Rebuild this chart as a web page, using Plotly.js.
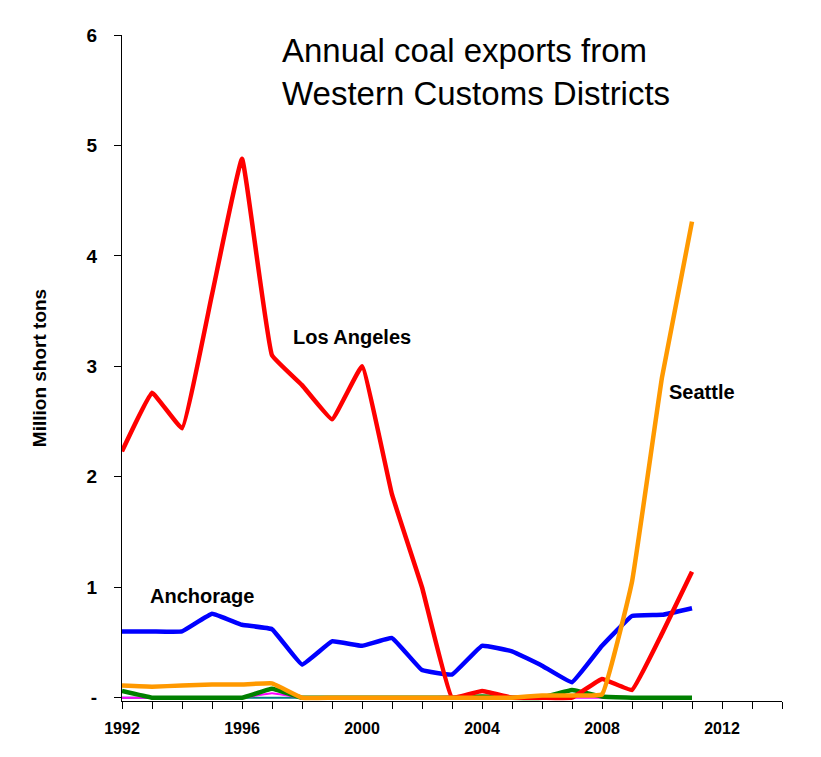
<!DOCTYPE html>
<html>
<head>
<meta charset="utf-8">
<script src="https://cdn.plot.ly/plotly-3.0.1.min.js"></script>
<style>
  html, body { margin: 0; padding: 0; background: #fff; }
  #chart { width: 821px; height: 757px; }
</style>
</head>
<body>
<div id="chart"></div>
<script>
// years 1992-2011, million short tons
var years = [1992, 1993, 1994, 1995, 1996, 1997, 1998, 1999, 2000, 2001,
             2002, 2003, 2004, 2005, 2006, 2007, 2008, 2009, 2010, 2011];

var losAngeles = [2.23, 2.76, 2.44, 3.65, 4.88, 3.10, 2.83, 2.52, 3.00, 1.84,
                  1.00, 0.00, 0.06, 0.00, 0.00, 0.00, 0.17, 0.07, 0.58, 1.14];
var anchorage = [0.60, 0.60, 0.60, 0.76, 0.66, 0.62, 0.30, 0.51, 0.47, 0.54,
                 0.25, 0.21, 0.47, 0.42, 0.29, 0.14, 0.47, 0.74, 0.75, 0.81];
var seattle = [0.11, 0.10, 0.11, 0.12, 0.12, 0.13, 0.00, 0.00, 0.00, 0.00,
               0.00, 0.00, 0.00, 0.00, 0.02, 0.02, 0.03, 1.05, 2.90, 4.31];
var green = [0.06, 0.00, 0.00, 0.00, 0.00, 0.08, 0.00, 0.00, 0.00, 0.00,
             0.00, 0.00, 0.01, 0.00, 0.00, 0.07, 0.01, 0.00, 0.00, 0.00];
var magenta = [0.00, 0.00, 0.00, 0.00, 0.00, 0.04, 0.00, 0.00, 0.00, 0.00,
               0.00, 0.01, 0.00, 0.00, 0.00, 0.00, 0.00, 0.00, 0.00, 0.00];
var teal = [0.00, 0.00, 0.00, 0.00, 0.00, 0.00, 0.00];
var tealYears = [1992, 1993, 1994, 1995, 1996, 1997, 1998];

var yTickVals = [0, 1, 2, 3, 4, 5, 6];
var yTickText = ['-', '1', '2', '3', '4', '5', '6'];
var xTickVals = [1992, 1996, 2000, 2004, 2008, 2012];

function line(x, y, color, width) {
    return {
        x: x, y: y, type: 'scatter', mode: 'lines',
        line: {color: color, width: width, shape: 'spline', smoothing: 0.25},
        hoverinfo: 'x+y', showlegend: false
    };
}

var data = [
    line(tealYears, teal, '#008080', 2),
    line(years, magenta, '#FF00FF', 2),
    line(years, green, '#008000', 4.5),
    line(years, anchorage, '#0000FF', 4.5),
    line(years, losAngeles, '#FF0000', 4.5),
    line(years, seattle, '#FF9900', 4.5)
];

var labelFont = {family: 'Liberation Sans, Arial, sans-serif', size: 20, color: '#000', weight: 'bold'};

var layout = {
    width: 821,
    height: 757,
    margin: {l: 122, r: 39, t: 35, b: 56},
    paper_bgcolor: '#fff',
    plot_bgcolor: '#fff',
    font: {family: 'Liberation Sans, Arial, sans-serif', color: '#000'},
    xaxis: {
        range: [1992, 2014],
        tickvals: xTickVals,
        ticktext: xTickVals.map(String),
        ticks: 'outside',
        ticklen: 7,
        tickwidth: 1,
        tickcolor: '#000',
        minor: {dtick: 1, tick0: 1992, ticks: 'outside', ticklen: 7, tickwidth: 1, tickcolor: '#000'},
        showline: true,
        linecolor: '#000',
        linewidth: 1,
        showgrid: false,
        zeroline: false,
        tickfont: {size: 16, weight: 'bold'},
        ticklabelstandoff: 6
    },
    yaxis: {
        range: [-0.03, 6],
        tickvals: yTickVals,
        ticktext: yTickText,
        ticks: 'outside',
        ticklen: 7,
        tickwidth: 1,
        tickcolor: '#000',
        showline: true,
        linecolor: '#000',
        linewidth: 1,
        showgrid: false,
        zeroline: false,
        tickfont: {size: 19, weight: 'bold'},
        ticklabelstandoff: 13,
        title: {text: 'Million short tons', font: {size: 19, weight: 'bold'}, standoff: 34}
    },
    annotations: [
        {xref: 'paper', yref: 'paper', x: 0.239, y: 0.944, xanchor: 'left', yanchor: 'middle',
         text: 'Annual coal exports from<br>Western Customs Districts', showarrow: false, align: 'left',
         font: {family: 'Liberation Sans, Arial, sans-serif', size: 33, color: '#000'}},
        {x: 1997.63, y: 3.27, xanchor: 'left', text: 'Los Angeles', showarrow: false, font: labelFont},
        {x: 1992.87, y: 0.92, xanchor: 'left', text: 'Anchorage', showarrow: false, font: labelFont},
        {x: 2010.17, y: 2.77, xanchor: 'left', text: 'Seattle', showarrow: false, font: labelFont}
    ]
};

Plotly.newPlot('chart', data, layout, {displayModeBar: false, staticPlot: true});
</script>
</body>
</html>
